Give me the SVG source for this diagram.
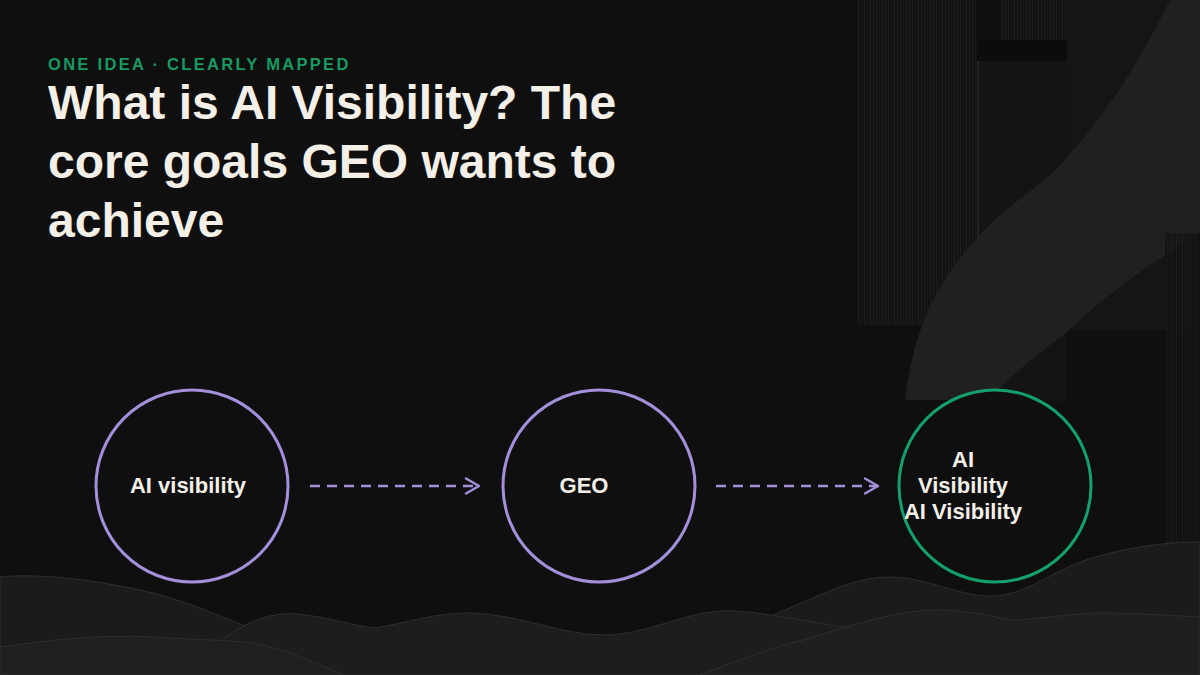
<svg xmlns="http://www.w3.org/2000/svg" width="1200" height="675" viewBox="0 0 1200 675">
<defs>
<style>
.kicker{font-family:"Liberation Sans",Arial,sans-serif;font-weight:700;font-size:16.5px;letter-spacing:2.3px;fill:#189a62}
.title{font-family:"Liberation Sans",Arial,sans-serif;font-weight:700;font-size:48px;fill:#f4f0e8}
.lbl{font-family:"Liberation Sans",Arial,sans-serif;font-weight:700;font-size:22px;fill:#f4f0e8;text-anchor:middle}
.node{fill:#0f0f10;stroke-width:3}
.p{stroke:#a48fda}
.g{stroke:#13a06a}
.edge{fill:none;stroke:#a48fda;stroke-width:2.5;stroke-dasharray:10 7}
.hill{stroke:#2e2e2e;stroke-width:1}
</style>
<pattern id="stripes" width="6" height="10" patternUnits="userSpaceOnUse">
<rect width="6" height="10" fill="#131313"/>
<rect x="0" width="1" height="10" fill="#1d1d1d"/>
<rect x="3" width="1" height="10" fill="#181818"/>
</pattern>
<marker id="arr" viewBox="0 0 18 18" refX="15" refY="9" markerWidth="18" markerHeight="18" markerUnits="userSpaceOnUse" orient="auto">
<path d="M2 1.5 L15 9 L2 16.5" fill="none" stroke="#a48fda" stroke-width="2.5" stroke-linecap="round" stroke-linejoin="round"/>
</marker>
</defs>
<rect width="1200" height="675" fill="#0f0f10"/>
<g id="backdrop">
<rect x="857" y="0" width="120" height="325" fill="url(#stripes)"/>
<rect x="1000" y="0" width="67" height="40" fill="url(#stripes)"/>
<rect x="977" y="40" width="90" height="21" fill="#0c0c0c"/>
<rect x="977" y="61" width="90" height="340" fill="#141414"/>
<rect x="977" y="61" width="2" height="340" fill="#222"/>
<rect x="1067" y="0" width="133" height="330" fill="#151515"/>
<path d="M1170 0 L1200 0 L1200 233 C1140 270 1100 300 1067 332 C1030 360 1005 380 990 400 L905 400 C915 320 940 280 977 238 C1010 200 1040 190 1067 157 C1110 110 1140 60 1170 0 Z" fill="#202021"/>
<rect x="1165" y="233" width="35" height="330" fill="url(#stripes)" opacity="0.8"/>
</g>
<g id="hills">
<path class="hill" d="M0 577 C30 574 80 576 153 593 C190 603 210 612 230 620 C260 632 300 650 360 675 L0 675 Z" fill="#1b1b1b"/>
<path class="hill" d="M680 675 C720 650 750 625 780 612 C820 596 850 578 888 577 C930 577 960 598 995 596 C1030 593 1050 572 1086 560 C1130 546 1170 542 1200 542 L1200 675 Z" fill="#1b1b1b"/>
<path class="hill" d="M180 675 C210 650 235 624 270 616 C285 613 295 613 306 615 C330 618 355 626 375 628 C410 622 440 612 470 613 C520 614 560 635 604 635 C650 635 690 608 735 611 C780 614 820 625 865 630 C880 640 890 660 900 675 Z" fill="#1d1d1d"/>
<path class="hill" d="M0 647 C50 640 100 634 153 637 C200 640 230 640 252 643 C290 650 320 665 344 675 L0 675 Z" fill="#202020"/>
<path class="hill" d="M700 675 C740 660 770 648 803 640 C850 626 900 609 941 610 C980 611 1000 620 1018 620 C1050 618 1080 612 1110 613 C1150 614 1180 616 1200 617 L1200 675 Z" fill="#1f1f1f"/>
</g>
<text class="kicker" x="48" y="70">ONE IDEA · CLEARLY MAPPED</text>
<text class="title" x="48" y="119">What is AI Visibility? The</text>
<text class="title" x="48" y="178">core goals GEO wants to</text>
<text class="title" x="48" y="237">achieve</text>
<g id="connectors">
<path class="edge" d="M310 486 H479" marker-end="url(#arr)"/>
<path class="edge" d="M716 486 H878" marker-end="url(#arr)"/>
</g>
<g id="node-ai-visibility">
<circle class="node p" cx="192" cy="486" r="96"/>
<text class="lbl" x="188" y="493">AI visibility</text>
</g>
<g id="node-geo">
<circle class="node p" cx="599" cy="486" r="96"/>
<text class="lbl" x="584" y="493">GEO</text>
</g>
<g id="node-goal">
<circle class="node g" cx="995" cy="486" r="96"/>
<text class="lbl" x="963" y="467">AI</text>
<text class="lbl" x="963" y="493">Visibility</text>
<text class="lbl" x="963" y="519">AI Visibility</text>
</g>
</svg>
